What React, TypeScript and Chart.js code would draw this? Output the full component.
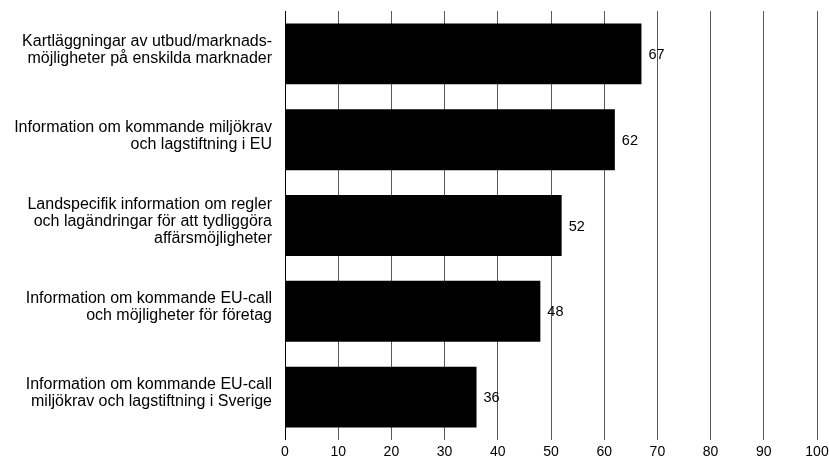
import React, { useEffect, useRef } from "react";
import { Chart, registerables } from "chart.js";

Chart.register(...registerables);

const categories: string[][] = [
  ["Kartläggningar av utbud/marknads-", "möjligheter på enskilda marknader"],
  ["Information om kommande miljökrav", "och lagstiftning i EU"],
  ["Landspecifik information om regler", "och lagändringar för att tydliggöra", "affärsmöjligheter"],
  ["Information om kommande EU-call", "och möjligheter för företag"],
  ["Information om kommande EU-call", "miljökrav och lagstiftning i Sverige"],
];
const values: number[] = [67, 62, 52, 48, 36];
const xTicks: number[] = [0, 10, 20, 30, 40, 50, 60, 70, 80, 90, 100];

const FONT = "'Liberation Sans', Arial, Helvetica, sans-serif";

const valueLabels = {
  id: "valueLabels",
  afterDatasetsDraw(chart: any) {
    const { ctx } = chart;
    const meta = chart.getDatasetMeta(0);
    ctx.save();
    ctx.fillStyle = "#000";
    ctx.font = `14.5px ${FONT}`;
    ctx.textAlign = "left";
    ctx.textBaseline = "middle";
    meta.data.forEach((el: any, i: number) => {
      ctx.fillText(String(values[i]), el.x + 7, el.y + 1);
    });
    ctx.restore();
  },
};

export default function App() {
  const ref = useRef<HTMLCanvasElement | null>(null);
  useEffect(() => {
    document.body.style.margin = "0";
    if (!ref.current) return;
    const chart = new Chart(ref.current, {
      type: "bar",
      data: {
        labels: categories,
        datasets: [
          {
            data: values,
            backgroundColor: "#000",
            borderWidth: 0,
            barPercentage: 0.71,
            categoryPercentage: 1,
          },
        ],
      },
      options: {
        indexAxis: "y",
        animation: false,
        responsive: false,
        maintainAspectRatio: false,
        layout: { padding: { top: 11, right: 12, left: 0, bottom: 0 } },
        plugins: {
          legend: { display: false },
          tooltip: { enabled: false },
        },
        scales: {
          x: {
            min: 0,
            max: 100,
            afterBuildTicks: (axis: any) => {
              axis.ticks = xTicks.map((v) => ({ value: v }));
            },
            afterFit: (axis: any) => {
              axis.height = 23;
              axis.paddingLeft = 0;
              axis.paddingRight = 0;
            },
            grid: {
              color: (c: any) => (c.tick && c.tick.value === 0 ? "#000" : "#5a5a5a"),
              lineWidth: 1,
              drawTicks: false,
            },
            border: { display: false },
            ticks: {
              color: "#000",
              font: { family: FONT, size: 14, lineHeight: 1.2 },
              padding: 4,
              maxRotation: 0,
            },
          },
          y: {
            afterFit: (axis: any) => {
              axis.width = 285;
              axis.paddingTop = 0;
              axis.paddingBottom = 0;
            },
            grid: { display: false, drawTicks: false },
            border: { display: false },
            ticks: {
              color: "#000",
              font: { family: FONT, size: 16, lineHeight: "17px" },
              padding: 13,
              labelOffset: -4,
            },
          },
        },
      },
      plugins: [valueLabels],
    });
    return () => chart.destroy();
  }, []);
  return (
    <div style={{ width: 829, height: 463 }}>
      <canvas ref={ref} width={829} height={463} style={{ display: "block" }} />
    </div>
  );
}
